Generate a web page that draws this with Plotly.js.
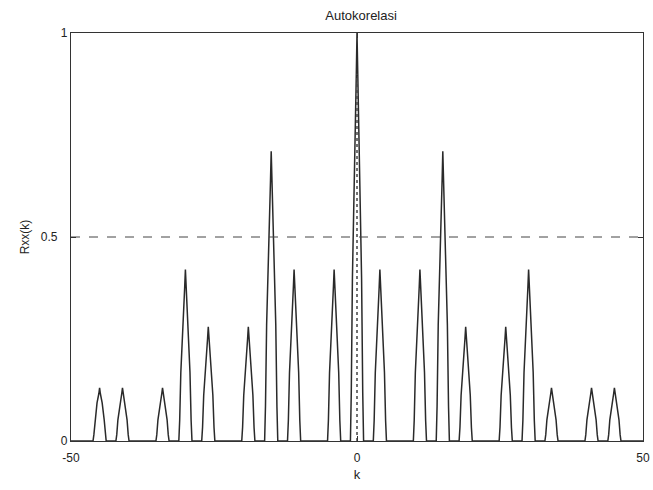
<!DOCTYPE html>
<html>
<head>
<meta charset="utf-8">
<script src="https://cdn.plot.ly/plotly-3.0.1.min.js"></script>
<style>html,body{margin:0;padding:0;background:#fff;}#chart{width:653px;height:490px;}</style>
</head>
<body>
<div id="chart"></div>
<script>
// Peak positions (lag k) and autocorrelation heights
var peakK = [-45, -41, -34, -30, -26, -19, -15, -11, -4, 0, 4, 11, 15, 19, 26, 30, 34, 41, 45];
var peakH = [0.13, 0.13, 0.13, 0.42, 0.28, 0.28, 0.71, 0.42, 0.42, 1.0, 0.42, 0.42, 0.71, 0.28, 0.28, 0.42, 0.13, 0.13, 0.13];
var refLevel = 0.5;
var xTicks = [-50, 0, 50];
var yTicks = [0, 0.5, 1];
var yTickText = ['0', '0.5\u00a0\u00a0\u00a0', '1'];

// peak outline profile (shape of each narrow lobe)
var profDx = [-1.15, -1.0, -0.8, -0.45, -0.12, 0, 0.12, 0.45, 0.8, 1.0, 1.15];
var profFy = [0, 0.12, 0.4, 0.72, 0.9, 1, 0.9, 0.72, 0.4, 0.12, 0];

var xs = [-50], ys = [0];
for (var i = 0; i < peakK.length; i++) {
  for (var j = 0; j < profDx.length; j++) {
    xs.push(peakK[i] + profDx[j]);
    ys.push(peakH[i] * profFy[j]);
  }
}
xs.push(50); ys.push(0);

var traces = [
  {x: xs, y: ys, type: 'scatter', mode: 'lines', line: {color: '#2a2a2a', width: 1.5}, hoverinfo: 'skip'},
  {x: [0, 0], y: [0, 0.9], type: 'scatter', mode: 'lines', line: {color: '#444', width: 1.5, dash: 'dot'}, hoverinfo: 'skip'},
  {x: [-50, 50], y: [refLevel, refLevel], type: 'scatter', mode: 'lines', line: {color: '#444', width: 1, dash: 'dash'}, hoverinfo: 'skip'}
];

var layout = {
  width: 653, height: 490,
  margin: {l: 71, r: 10, t: 33, b: 49},
  paper_bgcolor: '#fff', plot_bgcolor: '#fff',
  showlegend: false,
  font: {family: 'Liberation Sans, Arial, sans-serif', size: 12, color: '#222'},
  title: {text: 'Autokorelasi', x: 0.553, xanchor: 'center', y: 0.978, yanchor: 'top', font: {size: 13, color: '#222'}},
  xaxis: {
    range: [-50, 50], tickvals: xTicks, ticktext: xTicks.map(String),
    ticks: 'inside', ticklen: 5, tickcolor: '#333', showgrid: false, zeroline: false,
    showline: true, linecolor: '#333', linewidth: 1.2, mirror: 'ticks',
    ticklabelstandoff: 5,
    title: {text: 'k', standoff: 6, font: {size: 13}}
  },
  yaxis: {
    range: [0, 1], tickvals: yTicks, ticktext: yTickText,
    ticks: 'inside', ticklen: 5, tickcolor: '#333', showgrid: false, zeroline: false,
    showline: true, linecolor: '#333', linewidth: 1.2, mirror: 'ticks',
    title: {text: 'Rxx(k)', standoff: 8, font: {size: 12}}
  }
};

Plotly.newPlot('chart', traces, layout, {displayModeBar: false, staticPlot: true});
</script>
</body>
</html>
